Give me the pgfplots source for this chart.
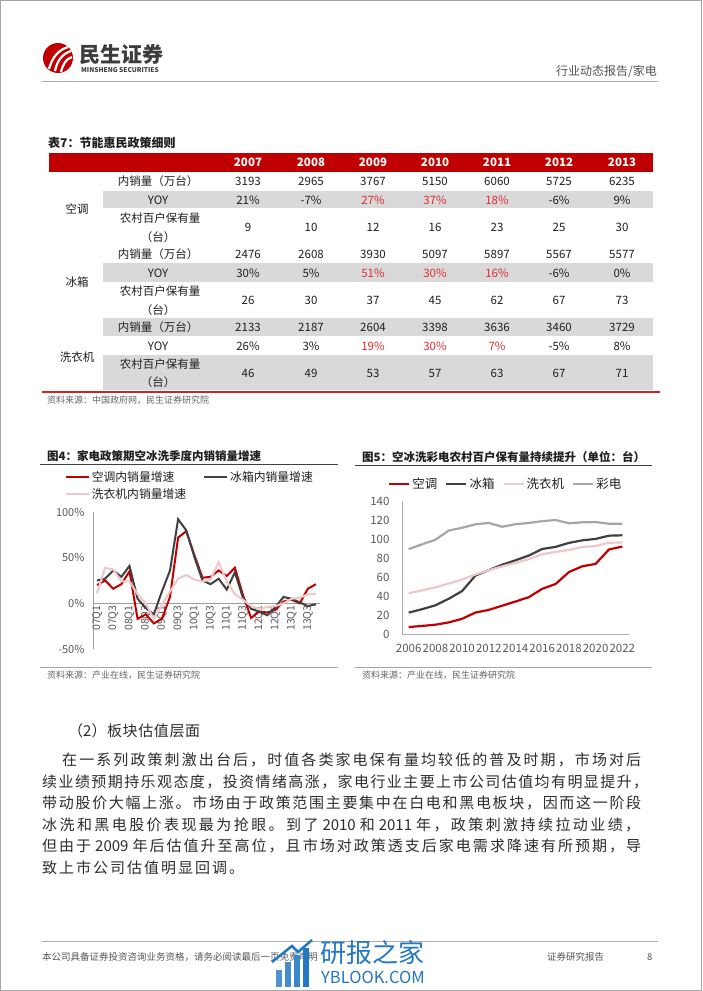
\documentclass[border=0pt]{standalone}
\usepackage{fontspec}
\setmainfont{Noto Sans CJK SC}
\usepackage{pgfplots}
\pgfplotsset{compat=1.18}
\newXeTeXintercharclass\cjkcls
\count255="4E00
\loop
  \XeTeXcharclass\count255=\cjkcls
  \advance\count255 by 1
\ifnum\count255<"A000 \repeat
\XeTeXcharclass"FF0C=\cjkcls
\XeTeXcharclass"3002=\cjkcls
\XeTeXcharclass"3001=\cjkcls
\XeTeXcharclass"FF08=\cjkcls
\XeTeXcharclass"FF09=\cjkcls
\XeTeXcharclass"FF1A=\cjkcls
\XeTeXinterchartoks\cjkcls\cjkcls={\hskip 0pt plus 1pt\relax}
\XeTeXinterchartokenstate=1
\definecolor{msred}{RGB}{192,0,0}
\definecolor{rowgray}{RGB}{217,217,217}
\definecolor{valred}{RGB}{225,45,50}
\definecolor{txt}{RGB}{30,30,30}
\definecolor{bodytxt}{RGB}{45,45,45}
\definecolor{logogray}{RGB}{60,60,60}
\definecolor{hdrgray}{RGB}{85,85,85}
\definecolor{srcgray}{RGB}{100,100,100}
\definecolor{ticktext}{RGB}{89,89,89}
\definecolor{cac}{RGB}{192,0,0}
\definecolor{cfr}{RGB}{64,64,64}
\definecolor{cwm}{RGB}{240,198,200}
\definecolor{ctv}{RGB}{166,166,166}
\definecolor{wmblue}{RGB}{35,120,195}
\newcommand\fs[1]{\fontsize{#1}{#1}\selectfont}
\newcommand\trow[8]{%
  \node at (248,#1) {#2};\node at (311,#1) {#3};\node at (373,#1) {#4};
  \node at (435,#1) {#5};\node at (497,#1) {#6};\node at (559,#1) {#7};\node at (622,#1) {#8};}
\newcommand\rv[1]{\textcolor{valred}{#1}}
\pgfplotsset{/pgf/number format/assume math mode=true}
\begin{document}
\begin{tikzpicture}[x=1pt,y=-1pt]
\path[use as bounding box] (0,0) rectangle (702,991);
\fill[white] (0,0) rectangle (702,991);
\draw[gray!70, line width=1pt] (0.5,0.5) rectangle (701.5,990.5);
% header
\fill[msred] (58,58) circle (15);
\draw[white, line width=2.2pt] (49,69) .. controls (52,58) and (58,50) .. (68,47);
\draw[white, line width=2.2pt] (55,71) .. controls (57,61) and (62,54) .. (71,51);
\draw[white, line width=2.2pt] (61,72) .. controls (63,64) and (66,59) .. (72,57);
\node[anchor=west, font=\fs{21}\bfseries, text=logogray, inner sep=0] at (79,55) {民生证券};
\node[anchor=west, font=\fs{6.6}\bfseries, text=logogray, inner sep=0] at (81,70.5) {MINSHENG SECURITIES};
\node[anchor=east, font=\fs{12}, text=hdrgray, inner sep=0] at (657,71) {行业动态报告/家电};
\draw[gray!65, line width=1pt] (42,81) -- (658,81);
% table
\node[anchor=west, font=\fs{12}\bfseries, text=txt, inner sep=0] at (48,143) {表7：节能惠民政策细则};
\fill[msred] (49,153) rectangle (653,172);
\fill[rowgray] (103,191) rectangle (653,208);
\fill[rowgray] (103,263) rectangle (653,282);
\fill[rowgray] (103,318) rectangle (653,336);
\fill[rowgray] (103,355) rectangle (653,390);
\draw[msred!85, line width=1.5pt] (42,392) -- (660,392);
\begin{scope}[every node/.style={font=\fs{11.5}\bfseries, text=white, inner sep=0}]
\trow{162.5}{2007}{2008}{2009}{2010}{2011}{2012}{2013}
\end{scope}
\begin{scope}[every node/.style={font=\fs{11.5}, text=txt, inner sep=0}]
\trow{181}{3193}{2965}{3767}{5150}{6060}{5725}{6235}
\trow{200}{21\%}{-7\%}{\rv{27\%}}{\rv{37\%}}{\rv{18\%}}{-6\%}{9\%}
\trow{227}{9}{10}{12}{16}{23}{25}{30}
\trow{254}{2476}{2608}{3930}{5097}{5897}{5567}{5577}
\trow{273}{30\%}{5\%}{\rv{51\%}}{\rv{30\%}}{\rv{16\%}}{-6\%}{0\%}
\trow{300}{26}{30}{37}{45}{62}{67}{73}
\trow{327}{2133}{2187}{2604}{3398}{3636}{3460}{3729}
\trow{346}{26\%}{3\%}{\rv{19\%}}{\rv{30\%}}{\rv{7\%}}{-5\%}{8\%}
\trow{373}{46}{49}{53}{57}{63}{67}{71}
\node at (158,181) {内销量（万台）};
\node at (158,200) {YOY};
\node at (160,218) {农村百户保有量};
\node at (158,237) {（台）};
\node at (158,254) {内销量（万台）};
\node at (158,273) {YOY};
\node at (160,291) {农村百户保有量};
\node at (158,310) {（台）};
\node at (158,327) {内销量（万台）};
\node at (158,346) {YOY};
\node at (160,364) {农村百户保有量};
\node at (158,382) {（台）};
\node at (77,209) {空调};
\node at (77,282) {冰箱};
\node at (77,357) {洗衣机};
\end{scope}
\node[anchor=west, font=\fs{9}, text=srcgray, inner sep=0] at (47,400) {资料来源：中国政府网，民生证券研究院};
% chart titles
\node[anchor=west, font=\fs{11.5}\bfseries, text=txt, inner sep=0] at (47,456) {图4：家电政策期空冰洗季度内销销量增速};
\draw[cfr, line width=0.8pt] (40,464) -- (338,464);
\node[anchor=west, font=\fs{11.5}\bfseries, text=txt, inner sep=0] at (362,457) {图5：空冰洗彩电农村百户保有量持续提升（单位：台）};
\draw[cfr, line width=0.8pt] (355,465) -- (652,465);
\draw[gray!70, line width=0.8pt] (40,667) -- (338,667);
\draw[gray!70, line width=0.8pt] (355,667) -- (652,667);
\node[anchor=west, font=\fs{9}, text=srcgray, inner sep=0] at (47,675) {资料来源：产业在线，民生证券研究院};
\node[anchor=west, font=\fs{9}, text=srcgray, inner sep=0] at (362,675) {资料来源：产业在线，民生证券研究院};
% chart 4
\begin{axis}[at={(93pt,-649pt)}, anchor=south west, scale only axis,
  width=227pt, height=137pt, xmin=-0.5, xmax=27.5, ymin=-50, ymax=100,
  axis x line=middle, axis y line=left, axis line style={draw=gray!75, line width=0.8pt, -},
  hide obscured x ticks=false, hide obscured y ticks=false,
  ytick={-50,0,50,100}, yticklabel={\pgfmathprintnumber{\tick}\%},
  xtick={0,2,...,26},
  xticklabels={07Q1,07Q3,08Q1,08Q3,09Q1,09Q3,10Q1,10Q3,11Q1,11Q3,12Q1,12Q3,13Q1,13Q3},
  xticklabel style={rotate=90, anchor=east, font=\fs{10.5}, text=ticktext, inner sep=2pt},
  yticklabel style={font=\fs{11}, text=ticktext, xshift=-5pt},
  major tick length=0pt, tick style={draw=none},
  legend style={draw=none, fill=none, at={(axis description cs:-0.125,1.31)}, anchor=north west,
    font=\fs{11.8}, text=txt, inner sep=0pt, row sep=1pt,
    /tikz/every even column/.append style={column sep=15pt}},
  legend columns=2, legend cell align=left,
  legend image code/.code={\draw[#1] (0pt,0pt) -- (23pt,0pt);},
  clip=false]
\addplot[cac, line width=2pt, mark=none] coordinates {(0,20) (1,25) (2,16) (3,21) (4,35) (5,-17) (6,-12) (7,-22) (8,-17) (9,7) (10,72) (11,79) (12,53) (13,28) (14,29) (15,36) (16,30) (17,39) (18,9) (19,-16) (20,-9) (21,-10) (22,-7) (23,2) (24,4) (25,0) (26,16) (27,21)};
\addlegendentry{空调内销量增速}
\addplot[cfr, line width=2pt, mark=none] coordinates {(0,25) (1,27) (2,36) (3,29) (4,41) (5,5) (6,-5) (7,-12) (8,13) (9,36) (10,92) (11,80) (12,51) (13,25) (14,21) (15,27) (16,15) (17,34) (18,6) (19,-6) (20,-9) (21,-13) (22,-4) (23,7) (24,5) (25,1) (26,-3) (27,-1)};
\addlegendentry{冰箱内销量增速}
\addplot[cwm, line width=2pt, mark=none] coordinates {(0,11) (1,39) (2,37) (3,24) (4,24) (5,10) (6,0) (7,-17) (8,-2) (9,13) (10,27) (11,31) (12,26) (13,24) (14,26) (15,45) (16,24) (17,10) (18,4) (19,-3) (20,-6) (21,-4) (22,-3) (23,0) (24,5) (25,6) (26,10) (27,10)};
\addlegendentry{洗衣机内销量增速}
\end{axis}
% chart 5
\begin{axis}[at={(402pt,-634pt)}, anchor=south west, scale only axis,
  width=227pt, height=133pt, xmin=2005.5, xmax=2022.5, ymin=0, ymax=140,
  axis lines=left, axis line style={draw=gray!65, line width=0.8pt, -},
  ytick={0,20,...,140}, xtick={2006,2008,...,2022},
  xticklabel style={font=\fs{11.5}, text=ticktext, /pgf/number format/1000 sep={}, yshift=-7pt},
  yticklabel style={font=\fs{11.5}, text=ticktext, xshift=-9pt},
  major tick length=0pt, tick style={draw=none},
  legend style={draw=none, fill=none, at={(axis description cs:-0.062,1.19)}, anchor=north west,
    font=\fs{12.5}, text=txt, inner sep=0pt,
    /tikz/every even column/.append style={column sep=6pt}},
  legend columns=4,
  legend image code/.code={\draw[#1] (0pt,0pt) -- (20pt,0pt);},
  clip=false]
\addplot[cac, line width=2.2pt, mark=none] coordinates {(2006,7.3) (2007,8.5) (2008,9.8) (2009,12.2) (2010,16) (2011,22.6) (2012,25.4) (2013,29.8) (2014,34.2) (2015,38.8) (2016,47.6) (2017,52.6) (2018,65.2) (2019,71.3) (2020,73.8) (2021,89) (2022,92)};
\addlegendentry{空调}
\addplot[cfr, line width=2.2pt, mark=none] coordinates {(2006,22.5) (2007,26.1) (2008,30.2) (2009,37.1) (2010,45.2) (2011,61.5) (2012,67.3) (2013,72.9) (2014,77.6) (2015,82.6) (2016,89.5) (2017,91.7) (2018,95.9) (2019,98.6) (2020,100.1) (2021,103.5) (2022,103.9)};
\addlegendentry{冰箱}
\addplot[cwm, line width=2.2pt, mark=none] coordinates {(2006,43) (2007,45.9) (2008,49.1) (2009,53.1) (2010,57.3) (2011,62.6) (2012,67.2) (2013,71.2) (2014,74.8) (2015,78.8) (2016,84) (2017,86.3) (2018,88.5) (2019,91.6) (2020,92.6) (2021,96.1) (2022,96.3)};
\addlegendentry{洗衣机}
\addplot[ctv, line width=2.2pt, mark=none] coordinates {(2006,89.4) (2007,94.4) (2008,99.2) (2009,108.9) (2010,111.8) (2011,115.5) (2012,116.9) (2013,112.9) (2014,115.6) (2015,116.9) (2016,118.8) (2017,120) (2018,116.6) (2019,117.6) (2020,117.8) (2021,116.1) (2022,116)};
\addlegendentry{彩电}
\end{axis}
% body text
\begin{scope}[every node/.style={anchor=west, inner sep=0, text=bodytxt, font=\fs{15}}]
\node at (68,731) {\makebox[132pt][s]{（2）板块估值层面}};
\node at (62,760) {\makebox[579pt][s]{在一系列政策刺激出台后，时值各类家电保有量均较低的普及时期，市场对后}};
\node at (42,781.5) {\makebox[606pt][s]{续业绩预期持乐观态度，投资情绪高涨，家电行业主要上市公司估值均有明显提升，}};
\node at (42,803) {\makebox[599pt][s]{带动股价大幅上涨。市场由于政策范围主要集中在白电和黑电板块，因而这一阶段}};
\node at (42,824.5) {\makebox[598pt][s]{冰洗和黑电股价表现最为抢眼。到了\kern4pt 2010\kern4pt 和\kern4pt 2011\kern4pt 年，政策刺激持续拉动业绩，}};
\node at (42,846) {\makebox[599pt][s]{但由于\kern4pt 2009\kern4pt 年后估值升至高位，且市场对政策透支后家电需求降速有所预期，导}};
\node at (42,867.5) {\makebox[202pt][s]{致上市公司估值明显回调。}};
\end{scope}
% footer
\draw[gray!65, line width=1pt] (42,941) -- (658,941);
\node[anchor=west, font=\fs{9.5}, text=hdrgray, inner sep=0] at (42,957) {本公司具备证券投资咨询业务资格，请务必阅读最后一页免责声明};
\node[anchor=west, font=\fs{9.5}, text=hdrgray, inner sep=0] at (547,957) {证券研究报告};
\node[anchor=west, font=\fs{9.5}, text=hdrgray, inner sep=0] at (647,957) {8};
% watermark
\fill[wmblue!80] (276,970) rectangle (282,987);
\fill[wmblue!85] (285,962) rectangle (291,987);
\fill[wmblue!90] (294,955) rectangle (300,987);
\fill[wmblue] (303,948) rectangle (309,987);
\draw[wmblue, line width=2.5pt] (272,962) -- (292,946) -- (298,952) -- (312,940);
\node[anchor=west, font=\fs{26}, text=wmblue, inner sep=0] at (320,953) {研报之家};
\node[anchor=west, font=\fs{16.5}, text=wmblue, inner sep=0] at (321,977) {YBLOOK.COM};
\end{tikzpicture}
\end{document}
